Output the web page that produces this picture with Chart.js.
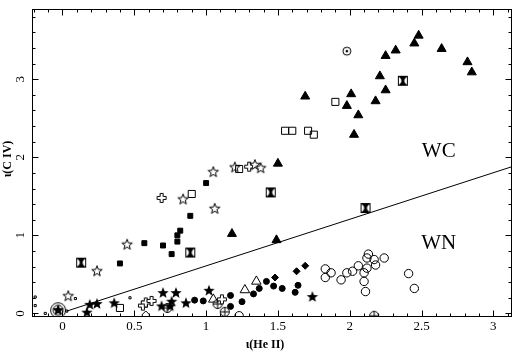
<!DOCTYPE html>
<html>
<head>
<meta charset="utf-8">
<script src="https://cdn.jsdelivr.net/npm/chart.js@4.4.0/dist/chart.umd.min.js"></script>
<style>
  html, body { margin: 0; padding: 0; background: #fff; }
</style>
</head>
<body>
<canvas id="wrChart" width="521" height="351"></canvas>
<script>
// tick labels
var xTicks = [0, 0.5, 1, 1.5, 2, 2.5, 3];
var yTicks = [0, 1, 2, 3];

// WC stars - filled triangles
var triX = [2.48, 2.45, 2.32, 2.25, 2.64, 2.82, 2.85, 2.21, 2.25, 2.01, 2.18, 1.98, 2.06, 2.03, 1.69, 1.50, 1.18, 1.49];
var triY = [3.56, 3.46, 3.37, 3.30, 3.39, 3.22, 3.09, 3.04, 2.86, 2.81, 2.72, 2.66, 2.54, 2.29, 2.78, 1.92, 1.02, 0.94];
// open squares
var sqX = [1.55, 1.60, 1.71, 1.75, 1.90, 0.90, 1.23, 0.40];
var sqY = [2.34, 2.34, 2.34, 2.29, 2.71, 1.53, 1.85, 0.07];
// filled squares
var fsqX = [1.00, 0.89, 0.82, 0.80, 0.80, 0.70, 0.57, 0.76, 0.40];
var fsqY = [1.67, 1.25, 1.06, 1.00, 0.92, 0.87, 0.90, 0.76, 0.64];
// open stars
var ostX = [1.05, 0.84, 1.06, 0.45, 0.24, 0.04, 1.34, 1.38, 1.20];
var ostY = [1.81, 1.46, 1.34, 0.88, 0.54, 0.22, 1.90, 1.86, 1.87];
// open crosses
var ocrX = [0.69, 1.30, 0.56, 0.58, 0.62, 1.11];
var ocrY = [1.48, 1.88, 0.10, 0.14, 0.16, 0.18];
// filled stars
var fstX = [0.17, 0.19, 0.24, 0.36, 0.70, 0.79, 1.02, 0.69, 0.75, 0.76, 0.86, 1.74, -0.03];
var fstY = [0.01, 0.11, 0.12, 0.13, 0.26, 0.26, 0.29, 0.09, 0.09, 0.15, 0.13, 0.21, 0.04];
// open triangles
var otX = [1.05, 1.27, 1.35];
var otY = [0.18, 0.30, 0.41];
// circles with cross
var cpX = [1.08, 1.13, 0.73, 2.17];
var cpY = [0.12, 0.02, 0.07, -0.03];
// WN stars - filled circles and diamonds
var fcX = [0.92, 0.98, 1.17, 1.17, 1.25, 1.33, 1.37, 1.42, 1.47, 1.53, 1.62, 1.64];
var fcY = [0.17, 0.16, 0.23, 0.09, 0.15, 0.25, 0.32, 0.41, 0.35, 0.32, 0.27, 0.36];
var fdX = [1.63, 1.69, 1.48];
var fdY = [0.54, 0.61, 0.46];
// WN stars - open circles
var ocX = [1.83, 1.87, 1.83, 1.94, 1.98, 2.02, 2.06, 2.10, 2.12, 2.12, 2.13, 2.17, 2.18, 2.24, 2.10, 2.11, 2.41, 2.45, 1.23];
var ocY = [0.57, 0.52, 0.46, 0.43, 0.52, 0.54, 0.61, 0.52, 0.58, 0.71, 0.76, 0.69, 0.62, 0.71, 0.41, 0.28, 0.51, 0.32, -0.03];
// boxed crosses
var bxX = [0.13, 0.89, 1.45, 2.11, 2.37];
var bxY = [0.65, 0.78, 1.55, 1.35, 2.98];
// odd ones
var dotcX = [1.98], dotcY = [3.36];
var bigX = [-0.03], bigY = [0.04];
var odX = [0.58], odY = [-0.02];
var dotX = [-0.19, -0.19, -0.12, 0.09, 0.47, 0.03];
var dotY = [0.21, 0.10, 0.00, 0.19, 0.20, 0.03];
// dividing line
var lineX = [0.03, 3.13];
var lineY = [0.03, 1.88];
// class labels
var zoneNames = ['WC', 'WN'];
var zoneX = [2.62, 2.62];
var zoneY = [2.07, 0.89];

function pts(xs, ys) {
  return xs.map(function(x, i) { return {x: x, y: ys[i]}; });
}

function marker(size, draw) {
  var c = document.createElement('canvas');
  c.width = size; c.height = size;
  var g = c.getContext('2d');
  g.translate(size / 2, size / 2);
  g.strokeStyle = '#000';
  g.fillStyle = '#000';
  g.lineWidth = 1;
  draw(g);
  return c;
}

function starPath(g, ro, ri) {
  g.beginPath();
  for (var i = 0; i < 10; i++) {
    var r = i % 2 ? ri : ro;
    var a = -Math.PI / 2 + i * Math.PI / 5;
    g.lineTo(r * Math.cos(a), r * Math.sin(a));
  }
  g.closePath();
}

var filledStar = marker(14, function(g) { starPath(g, 6, 2.6); g.fill(); });
var openStar = marker(14, function(g) {
  starPath(g, 5.5, 2.3); g.fillStyle = '#fff'; g.fill(); g.stroke();
});
var openCross = marker(12, function(g) {
  g.beginPath();
  var a = 1.5, b = 4.5;
  g.moveTo(-a, -b); g.lineTo(a, -b); g.lineTo(a, -a); g.lineTo(b, -a); g.lineTo(b, a);
  g.lineTo(a, a); g.lineTo(a, b); g.lineTo(-a, b); g.lineTo(-a, a); g.lineTo(-b, a);
  g.lineTo(-b, -a); g.lineTo(-a, -a); g.closePath();
  g.fillStyle = '#fff'; g.fill(); g.stroke();
});
var boxCross = marker(12, function(g) {
  g.strokeRect(-4.5, -4.5, 9, 9);
  g.beginPath();
  g.moveTo(-4, -4); g.lineTo(4, -4); g.lineTo(0, 0); g.closePath();
  g.moveTo(-4, 4); g.lineTo(4, 4); g.lineTo(0, 0); g.closePath();
  g.fill();
  g.fillRect(-1.5, -2, 3, 4);
});
var circlePlus = marker(12, function(g) {
  g.beginPath(); g.arc(0, 0, 4.5, 0, Math.PI * 2);
  g.fillStyle = '#fff'; g.fill(); g.stroke();
  g.beginPath(); g.moveTo(-4.5, 0); g.lineTo(4.5, 0); g.moveTo(0, -4.5); g.lineTo(0, 4.5); g.stroke();
});
var circleDot = marker(12, function(g) {
  g.beginPath(); g.arc(0, 0, 4, 0, Math.PI * 2); g.stroke();
  g.beginPath(); g.arc(0, 0, 1.3, 0, Math.PI * 2); g.fill();
});
var bigCircle = marker(18, function(g) {
  g.beginPath(); g.arc(0, 0, 7.5, 0, Math.PI * 2); g.stroke();
  g.beginPath(); g.arc(0, 0, 5, 0, Math.PI * 2); g.stroke();
  starPath(g, 5, 2.2); g.fill();
});

function set(xs, ys, style, radius, fill) {
  return {
    data: pts(xs, ys),
    pointStyle: style,
    pointRadius: radius,
    pointBackgroundColor: fill,
    pointBorderColor: '#000',
    pointBorderWidth: 1
  };
}

// frame, inward ticks, tick labels, titles and WC / WN tags
var framePlugin = {
  id: 'frame',
  afterDatasetsDraw: function(chart) {
    var ctx = chart.ctx, a = chart.chartArea;
    var xs = chart.scales.x, ys = chart.scales.y;
    var L = a.left + 0.5, R = a.right - 0.5, T = a.top + 0.5, B = a.bottom - 0.5;
    ctx.save();
    ctx.strokeStyle = '#000';
    ctx.lineWidth = 1;
    ctx.strokeRect(L, T, R - L, B - T);
    ctx.beginPath();
    for (var i = -2; i <= 31; i++) {
      var px = Math.round(xs.getPixelForValue(i / 10)) + 0.5;
      var len = i % 5 === 0 ? 6 : 3;
      ctx.moveTo(px, B); ctx.lineTo(px, B - len);
      ctx.moveTo(px, T); ctx.lineTo(px, T + len);
    }
    for (var j = 0; j <= 19; j++) {
      var py = Math.round(ys.getPixelForValue(j / 5)) + 0.5;
      var ln = j % 5 === 0 ? 6 : 3;
      ctx.moveTo(L, py); ctx.lineTo(L + ln, py);
      ctx.moveTo(R, py); ctx.lineTo(R - ln, py);
    }
    ctx.stroke();

    ctx.fillStyle = '#000';
    ctx.font = '13px "Liberation Serif", serif';
    ctx.textAlign = 'center';
    ctx.textBaseline = 'middle';
    xTicks.forEach(function(v) {
      ctx.fillText(String(v), xs.getPixelForValue(v), 327);
    });
    yTicks.forEach(function(v) {
      ctx.save();
      ctx.translate(21, ys.getPixelForValue(v));
      ctx.rotate(-Math.PI / 2);
      ctx.fillText(String(v), 0, 0);
      ctx.restore();
    });

    ctx.font = 'bold 12px "Liberation Serif", serif';
    ctx.fillText('ι(He II)', 265, 345);
    ctx.save();
    ctx.translate(8, 159);
    ctx.rotate(-Math.PI / 2);
    ctx.fillText('ι(C IV)', 0, 0);
    ctx.restore();

    ctx.font = '21px "Liberation Serif", serif';
    zoneNames.forEach(function(n, k) {
      ctx.fillText(n, xs.getPixelForValue(zoneX[k]), ys.getPixelForValue(zoneY[k]));
    });
    ctx.restore();
  }
};

var ctx = document.getElementById('wrChart');
var wrChart = new Chart(ctx, {
  type: 'scatter',
  data: {
    datasets: [
      {
        type: 'line',
        data: pts(lineX, lineY),
        borderColor: '#000',
        borderWidth: 1,
        pointRadius: 0,
        fill: false
      },
      set(triX, triY, 'triangle', 5.2, '#000'),
      set(sqX, sqY, 'rect', 5, 'rgba(0,0,0,0)'),
      set(fsqX, fsqY, 'rect', 3.5, '#000'),
      set(ostX, ostY, openStar, 6, '#fff'),
      set(ocrX, ocrY, openCross, 5, '#fff'),
      set(fstX, fstY, filledStar, 6, '#000'),
      set(otX, otY, 'triangle', 5.5, 'rgba(0,0,0,0)'),
      set(cpX, cpY, circlePlus, 5, '#fff'),
      set(fcX, fcY, 'circle', 3, '#000'),
      set(fdX, fdY, 'rectRot', 3.5, '#000'),
      set(ocX, ocY, 'circle', 4.2, 'rgba(0,0,0,0)'),
      set(bxX, bxY, boxCross, 5, '#000'),
      set(dotcX, dotcY, circleDot, 5, '#fff'),
      set(bigX, bigY, bigCircle, 8, '#fff'),
      set(odX, odY, 'rectRot', 4, 'rgba(0,0,0,0)'),
      set(dotX, dotY, 'rect', 1.5, 'rgba(0,0,0,0)')
    ]
  },
  options: {
    responsive: false,
    animation: false,
    devicePixelRatio: 1,
    events: [],
    layout: { padding: { left: 32, right: 1, top: 0, bottom: 34 } },
    plugins: { legend: { display: false }, tooltip: { enabled: false } },
    scales: {
      x: { type: 'linear', min: -0.2123, max: 3.130, display: false },
      y: { type: 'linear', min: -0.046, max: 3.90, display: false }
    }
  },
  plugins: [framePlugin]
});
</script>
</body>
</html>
